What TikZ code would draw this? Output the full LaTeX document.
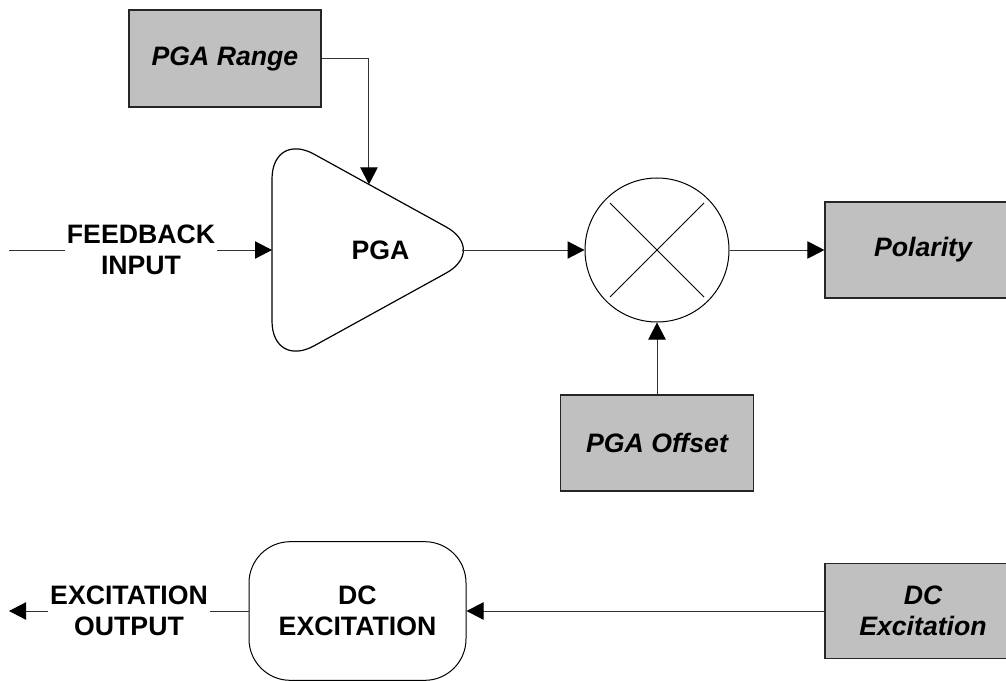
\documentclass[tikz,border=0pt]{standalone}
\usepackage{fontspec}
\setmainfont{Liberation Sans}
\usetikzlibrary{arrows.meta,calc}

\begin{document}
\begin{tikzpicture}[x=0.75pt,y=0.75pt,yscale=-1,xscale=1,
    parbox/.style={draw=black!85, line width=0.9pt, fill={rgb, 255:red, 192; green, 192; blue, 192}, inner sep=0pt, align=center, font=\fontsize{20}{23.25}\selectfont\bfseries\itshape},
    sigtext/.style={inner sep=1.5pt, align=center, font=\fontsize{20}{23.25}\selectfont\bfseries},
    wire/.style={draw=black!80, line width=0.75pt},
    sig/.style={wire, -{Triangle[length=12.75pt,width=13pt,color=black]}}
]
\useasboundingbox (0,0) rectangle (1006,681);

%Shape: Rectangle [PGA Range]
\node [parbox, minimum width=144pt, minimum height=72.75pt] (range) at (225,58.5) {PGA Range};
%Shape: Rectangle [Polarity]
\node [parbox, minimum width=147pt, minimum height=72pt] (polarity) at (923,250) {Polarity};
%Shape: Rectangle [PGA Offset]
\node [parbox, minimum width=144.75pt, minimum height=72pt] (offset) at (657,443) {PGA Offset};
%Shape: Rectangle [DC Excitation]
\node [parbox, minimum width=147pt, minimum height=71.25pt] (dcset) at (923,611) {DC\\Excitation};

%Shape: Triangle [PGA]
\coordinate (pgatop) at (272,131);
\coordinate (pgabot) at (272,369);
\coordinate (pgatip) at (488,250);
\draw [line width=0.9pt, rounded corners=36pt] (272,250) -- (pgatop) -- (pgatip) -- (pgabot) -- cycle;
\node [sigtext] (pga) at (380.5,250) {PGA};
\coordinate (pgain) at (272,250);
\coordinate (pgaout) at (462,250);
\coordinate (rangein) at ($(pgatop)!0.449!(pgatip)$);

%Shape: Circle [multiplier]
\node [draw, circle, line width=0.75pt, minimum size=108pt, inner sep=0pt] (mult) at (657,250) {};
\draw [line width=0.75pt] (mult.center) ++(-47,-47) -- ++(94,94);
\draw [line width=0.75pt] (mult.center) ++(47,-47) -- ++(-94,94);

%Shape: Rounded Rectangle [DC EXCITATION]
\node [draw, line width=0.75pt, rounded corners=31pt, minimum width=162.75pt, minimum height=104pt, sigtext] (dcgen) at (357.5,611) {DC\\EXCITATION};

% Text Node
\node [sigtext] (fbtext) at (141,250) {FEEDBACK\\INPUT};
% Text Node
\node [sigtext] (outtext) at (129,611) {EXCITATION\\OUTPUT};
\coordinate (fbstart) at (9,250);
\coordinate (outend) at (9,611);

%Straight Lines
\draw [wire] (fbstart) -- (fbtext.west);
\draw [sig] (fbtext.east) -- (pgain);
\draw [sig] (range.east) -| (rangein);
\draw [sig] (pgaout) -- (mult.west);
\draw [sig] (mult.east) -- (polarity.west);
\draw [sig] (offset.north) -- (mult.south);
\draw [sig] (dcset.west) -- (dcgen.east);
\draw [wire] (dcgen.west) -- (outtext.east);
\draw [sig] (outtext.west) -- (outend);
\end{tikzpicture}
\end{document}
